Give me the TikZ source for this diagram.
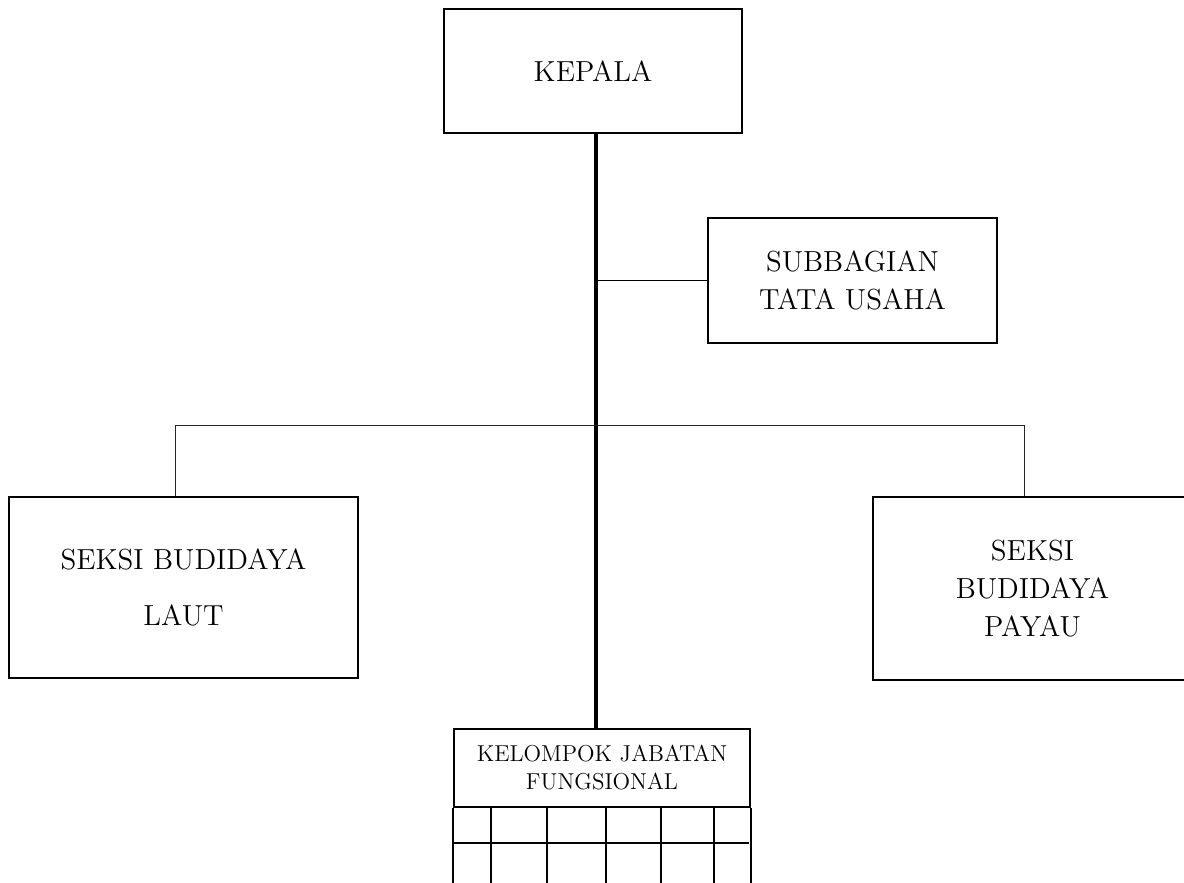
\documentclass[tikz,border=0pt]{standalone}
\usepackage{tikz}
\usetikzlibrary{positioning}

\begin{document}
\begin{tikzpicture}[
    x=0.5pt, y=-0.5pt,
    unit/.style={draw, line width=1.1pt, align=center, inner sep=0pt, font=\fontsize{14.5}{19}\selectfont},
    kjfbox/.style={draw, line width=1.1pt, align=center, inner sep=0pt, font=\fontsize{11.5}{14}\selectfont},
    trunk/.style={line width=1.6pt},
    branch/.style={line width=0.45pt, black!85},
    link/.style={line width=0.9pt},
    cell/.style={line width=1.1pt}
]
    \useasboundingbox (0,0) rectangle (1184,883);
    \clip (0,0) rectangle (1184,883);

    \node[unit, minimum width=149pt, minimum height=62pt] (kepala) at (593,71) {KEPALA};
    \node[unit, minimum width=144.5pt, minimum height=62.5pt] (sub) at (852.5,280.5) {SUBBAGIAN\\TATA USAHA};
    \node[unit, minimum width=174.5pt, minimum height=90.5pt, font=\fontsize{14.5}{28}\selectfont] (laut) at (183.5,587.5) {SEKSI BUDIDAYA\\LAUT};
    \node[unit, minimum width=159.5pt, minimum height=91.5pt] (payau) at (1032.5,588.5) {SEKSI\\BUDIDAYA\\PAYAU};
    \node[kjfbox, minimum width=148pt, minimum height=39pt] (kjf) at (602,768) {KELOMPOK JABATAN\\FUNGSIONAL};

    \coordinate (axis) at (596,0);
    \coordinate (bar) at (0,425);
    \coordinate (leftdrop) at (175,0);
    \coordinate (rightdrop) at (1024,0);
    \coordinate (subjoin) at (axis |- sub.west);

    % garis komando
    \draw[trunk] (kepala.south -| axis) -- (kjf.north -| axis);
    \draw[link] (subjoin) -- (sub.west);
    \draw[branch] (laut.north -| leftdrop) -- (leftdrop |- bar) -- (rightdrop |- bar) -- (payau.north -| rightdrop);

    % kolom jabatan fungsional
    \draw[cell] (kjf.south west) -- ++(0,90) (kjf.south east) -- ++(0,90);
    \draw[cell] (kjf.south west) ++(0,35) -- ++(296,0);
    \foreach \cx in {491,547,606,661,714}
        \draw[cell] (kjf.south -| \cx,0) -- ++(0,90);
\end{tikzpicture}
\end{document}
